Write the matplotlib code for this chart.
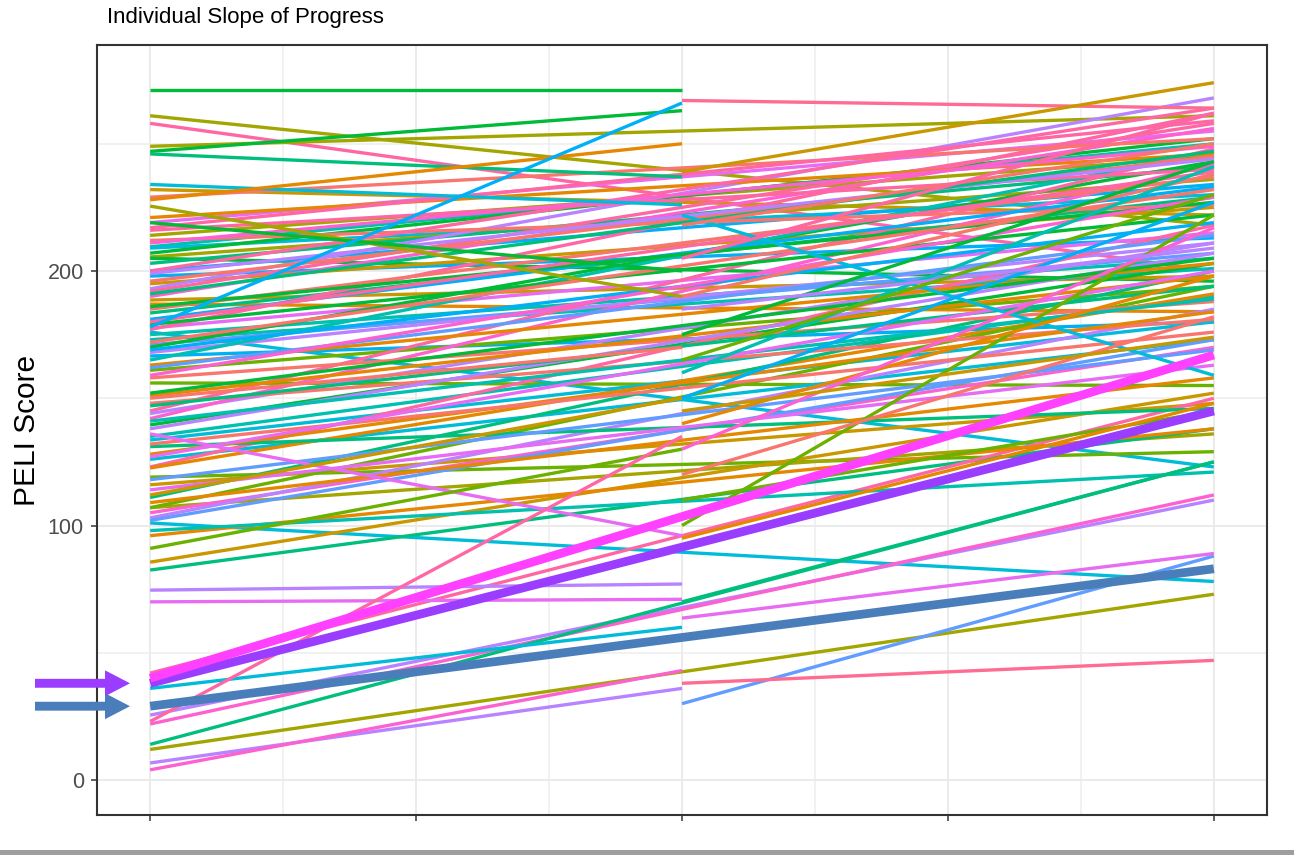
import matplotlib.pyplot as plt
from matplotlib.patches import FancyArrow, Rectangle
from matplotlib.transforms import blended_transform_factory

plt.rcParams['font.family'] = ['Liberation Sans', 'DejaVu Sans']

# ggplot-like hue colours used for the students
pal = {
    'salmon': '#F8766D', 'orange': '#E58700', 'gold': '#C99800',
    'olive': '#A3A500', 'ygreen': '#6BB100', 'green': '#00BA38',
    'tgreen': '#00BF7D', 'teal': '#00C0AF', 'cyan': '#00BCD8',
    'sky': '#00B0F6', 'blue': '#619CFF', 'lavender': '#B983FF',
    'violet': '#E76BF3', 'magenta': '#FD61D1', 'pink': '#FF67A4',
    'pinkred': '#FF6C91',
}

# time points on the x axis
t1, t2, t3 = 1, 2, 3

# students with all three scores: fitted value at t1 and at t3
full_start = [261, 258, 249, 232, 219, 214, 209.5, 209, 207, 205.5, 205, 203, 200, 198,
              195, 193, 192, 190, 188.6, 187, 183.5, 177.6, 177, 176, 175, 173, 171, 170,
              168, 166.6, 165, 161, 156, 145, 144, 142, 139.5, 135, 133.6, 126, 123, 122.6,
              119, 116, 111, 107, 107, 105, 103, 102, 101, 85.6, 82.5, 42, 25.5, 22, 14, 12,
              229, 221, 216, 212, 196, 185, 181, 179, 163, 158, 151, 148, 138, 131, 128,
              114, 96, 200,
              217, 211, 199, 191, 186, 180, 172, 169, 162, 159, 152, 147, 141, 132, 127,
              118, 109, 98]
full_end = [218, 200, 261, 222, 255, 245, 250, 230, 252, 236, 196, 241, 234, 213,
            225, 268, 258, 256, 198, 184, 229, 215, 262, 123, 205, 201, 207, 243,
            211, 180, 247, 194, 155, 248, 211, 242, 203, 190, 180, 173, 218, 191,
            129, 148, 200, 136, 194, 170, 185, 173, 78, 152, 138, 150, 110, 112, 125, 73,
            252, 246, 240, 226, 245, 237, 233, 222, 203, 188, 198, 181, 207, 146, 184,
            163, 138, 264,
            259, 249, 244, 247, 227, 239, 232, 219, 214, 229, 205, 194, 189, 176, 200,
            169, 158, 121]
full_col = ['olive', 'pink', 'olive', 'gold', 'violet', 'olive', 'teal', 'cyan', 'green',
            'olive', 'green', 'tgreen', 'sky', 'sky', 'gold', 'lavender', 'pink', 'magenta',
            'gold', 'orange', 'tgreen', 'violet', 'pink', 'cyan', 'teal', 'teal', 'blue',
            'green', 'lavender', 'sky', 'teal', 'ygreen', 'ygreen', 'pink', 'lavender',
            'magenta', 'green', 'teal', 'cyan', 'cyan', 'pink', 'orange', 'ygreen', 'gold',
            'tgreen', 'olive', 'ygreen', 'magenta', 'lavender', 'blue', 'cyan', 'gold',
            'tgreen', 'pink', 'lavender', 'magenta', 'tgreen', 'olive',
            'salmon', 'orange', 'pink', 'salmon', 'salmon', 'salmon', 'sky', 'green',
            'orange', 'salmon', 'orange', 'salmon', 'lavender', 'tgreen', 'orange',
            'violet', 'orange', 'pink',
            'pink', 'magenta', 'lavender', 'tgreen', 'green', 'pink', 'salmon', 'sky',
            'blue', 'magenta', 'green', 'tgreen', 'teal', 'salmon', 'violet', 'blue',
            'orange', 'teal']

# students with scores at t1 and t2 only
early_start = [271, 247, 246, 234, 228, 225.5, 219, 178, 136, 91, 74.6, 70, 36, 23, 6.7, 4,
               150, 112]
early_end = [271, 263, 237, 226, 250, 190, 200, 266, 96, 130, 77, 71, 60, 135, 36, 43,
             170, 150]
early_col = ['green', 'green', 'tgreen', 'cyan', 'orange', 'olive', 'green', 'sky', 'violet',
             'ygreen', 'lavender', 'violet', 'cyan', 'pink', 'lavender', 'magenta',
             'salmon', 'gold']

# students with scores at t2 and t3 only
late_start = [267, 239, 100, 30, 38, 63.6, 70, 222, 218, 190, 175, 160, 150, 140, 130, 120,
              110, 95, 205, 185, 165, 145]
late_end = [264, 274, 222, 88, 47, 89, 125, 159, 250, 238, 243, 241, 227, 198, 217, 182,
            145, 148, 262, 209, 230, 174]
late_col = ['pinkred', 'gold', 'ygreen', 'blue', 'pinkred', 'violet', 'tgreen', 'cyan',
            'salmon', 'salmon', 'green', 'teal', 'sky', 'orange', 'magenta', 'salmon',
            'ygreen', 'orange', 'pink', 'lavender', 'ygreen', 'gold']

# highlighted students (start, end, colour)
hl_start = [29, 38, 40]
hl_end = [83, 145, 167]
hl_col = ['#4A7EBB', '#9B3DFF', '#FF40FF']

# making the figure
fig = plt.figure(figsize=(12.94, 8.55), dpi=100)
ax = fig.add_axes([97 / 1294, 1 - 815 / 855, 1170 / 1294, 770 / 855])

thin = 2.4
for s, e, c in zip(full_start, full_end, full_col):
    ax.plot([t1, t3], [s, e], color=pal[c], lw=thin, solid_capstyle='butt')
for s, e, c in zip(early_start, early_end, early_col):
    ax.plot([t1, t2], [s, e], color=pal[c], lw=thin, solid_capstyle='butt')
for s, e, c in zip(late_start, late_end, late_col):
    ax.plot([t2, t3], [s, e], color=pal[c], lw=thin, solid_capstyle='butt')

# thick lines on top
for s, e, c in zip(hl_start, hl_end, hl_col):
    ax.plot([t1, t3], [s, e], color=c, lw=6.3, solid_capstyle='butt', zorder=5)

# axes look (theme_bw)
ax.set_xlim(0.9, 3.1)
ax.set_ylim(-13.75, 288.8)
ax.set_xticks([1, 1.5, 2, 2.5, 3])
ax.set_xticks([1.25, 1.75, 2.25, 2.75], minor=True)
ax.set_xticklabels([])
ax.set_yticks([0, 100, 200])
ax.set_yticks([50, 150, 250], minor=True)
ax.grid(True, which='major', color='#EBEBEB', lw=1.4)
ax.grid(True, which='minor', color='#EEEEEE', lw=1.1)
ax.set_axisbelow(True)
ax.tick_params(which='major', length=4.5, width=1.1, color='#333333',
               labelsize=15.5, labelcolor='#4D4D4D', pad=5)
ax.tick_params(which='minor', length=0)
for sp in ax.spines.values():
    sp.set_color('#333333')
    sp.set_linewidth(1.5)

# title and y label
fig.text(107 / 1294, 1 - 17 / 855, 'Individual Slope of Progress', fontsize=16,
         ha='left', va='center', color='black')
fig.text(27 / 1294, 0.497, 'PELI Score', rotation=90, fontsize=21.5,
         ha='center', va='center', color='black')

# arrows pointing at the start of the highlighted lines
tr = blended_transform_factory(fig.transFigure, ax.transData)
for s, c in zip(hl_start[:2], hl_col[:2]):
    arr = FancyArrow(35 / 1294, s, 95 / 1294, 0, width=3.5, head_width=10.2,
                     head_length=25 / 1294, length_includes_head=True,
                     color=c, lw=0, transform=tr, clip_on=False)
    fig.add_artist(arr)

# grey bar at the bottom edge
fig.add_artist(Rectangle((0, 0), 1, 5 / 855, transform=fig.transFigure,
                         color='#9E9E9E', lw=0))

plt.savefig('out.png', dpi=100)
